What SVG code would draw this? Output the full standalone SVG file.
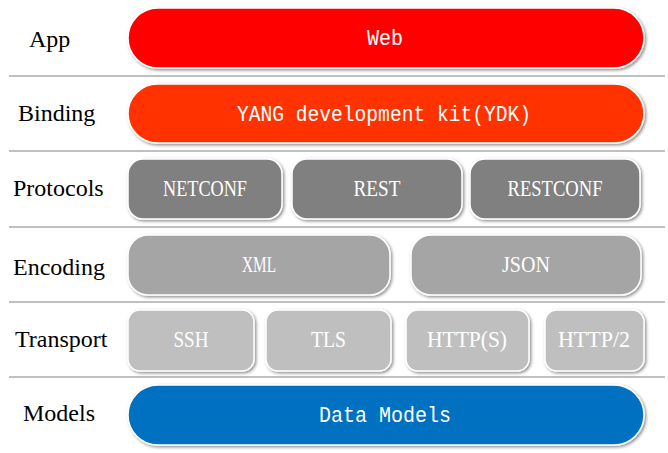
<svg xmlns="http://www.w3.org/2000/svg" width="668" height="453" viewBox="0 0 668 453">
<style>
.lbl{font-family:"Liberation Serif","Times New Roman",serif;font-size:24px;fill:#000}
.t{font-family:"Liberation Serif","Times New Roman",serif;font-size:23px;fill:#fff;text-anchor:middle}
.m{font-family:"Liberation Mono","Courier New",monospace;font-size:22px}
.sep{stroke:#c0c0c0;stroke-width:2}
.box{stroke:#fff;stroke-width:1.5;filter:url(#sh)}
</style>
<defs>
<filter id="sh" x="-10%" y="-20%" width="120%" height="150%">
<feDropShadow dx="1.5" dy="1.5" stdDeviation="1.8" flood-color="#000" flood-opacity="0.45"/>
</filter>
</defs>
<g id="separators">
<line class="sep" x1="9" y1="76" x2="665" y2="76"/>
<line class="sep" x1="9" y1="151" x2="665" y2="151"/>
<line class="sep" x1="9" y1="227" x2="665" y2="227"/>
<line class="sep" x1="9" y1="302" x2="665" y2="302"/>
<line class="sep" x1="9" y1="377" x2="665" y2="377"/>
</g>
<g id="labels">
<text class="lbl" x="29" y="47">App</text>
<text class="lbl" x="18" y="121">Binding</text>
<text class="lbl" x="13" y="196">Protocols</text>
<text class="lbl" x="13" y="275">Encoding</text>
<text class="lbl" x="15" y="347">Transport</text>
<text class="lbl" x="23" y="421">Models</text>
</g>
<g id="web">
<rect class="box" x="128" y="8" width="516" height="60" rx="30" fill="#ff0000"/>
<text class="t m" x="385" y="45" textLength="36" lengthAdjust="spacingAndGlyphs">Web</text>
</g>
<g id="ydk">
<rect class="box" x="128" y="84" width="516" height="59" rx="29.5" fill="#ff3300"/>
<text class="t m" x="384" y="121" textLength="294" lengthAdjust="spacingAndGlyphs">YANG development kit(YDK)</text>
</g>
<g id="netconf">
<rect class="box" x="128" y="159" width="154" height="60" rx="15" fill="#808080"/>
<text class="t" x="205" y="196" textLength="84" lengthAdjust="spacingAndGlyphs">NETCONF</text>
</g>
<g id="rest">
<rect class="box" x="292" y="159" width="170" height="60" rx="15" fill="#808080"/>
<text class="t" x="377" y="196" textLength="47" lengthAdjust="spacingAndGlyphs">REST</text>
</g>
<g id="restconf">
<rect class="box" x="470" y="159" width="170" height="60" rx="15" fill="#808080"/>
<text class="t" x="555" y="196" textLength="95" lengthAdjust="spacingAndGlyphs">RESTCONF</text>
</g>
<g id="xml">
<rect class="box" x="128" y="235" width="262" height="60" rx="20" fill="#a5a5a5"/>
<text class="t" x="259" y="272" textLength="34" lengthAdjust="spacingAndGlyphs">XML</text>
</g>
<g id="json">
<rect class="box" x="411" y="235" width="230" height="60" rx="20" fill="#a5a5a5"/>
<text class="t" x="526" y="272" textLength="48" lengthAdjust="spacingAndGlyphs">JSON</text>
</g>
<g id="ssh">
<rect class="box" x="128" y="310" width="126" height="61" rx="12" fill="#bfbfbf"/>
<text class="t" x="191" y="347" textLength="35" lengthAdjust="spacingAndGlyphs">SSH</text>
</g>
<g id="tls">
<rect class="box" x="266" y="310" width="125" height="61" rx="12" fill="#bfbfbf"/>
<text class="t" x="328.5" y="347" textLength="35" lengthAdjust="spacingAndGlyphs">TLS</text>
</g>
<g id="https">
<rect class="box" x="406" y="310" width="123" height="61" rx="12" fill="#bfbfbf"/>
<text class="t" x="467" y="347" textLength="80" lengthAdjust="spacingAndGlyphs">HTTP(S)</text>
</g>
<g id="http2">
<rect class="box" x="545" y="310" width="99" height="61" rx="12" fill="#bfbfbf"/>
<text class="t" x="594" y="347" textLength="72" lengthAdjust="spacingAndGlyphs">HTTP/2</text>
</g>
<g id="datamodels">
<rect class="box" x="128" y="385" width="516" height="60" rx="30" fill="#0070c0"/>
<text class="t m" x="385" y="422" textLength="132" lengthAdjust="spacingAndGlyphs">Data Models</text>
</g>
<g id="connectors"/>
</svg>
